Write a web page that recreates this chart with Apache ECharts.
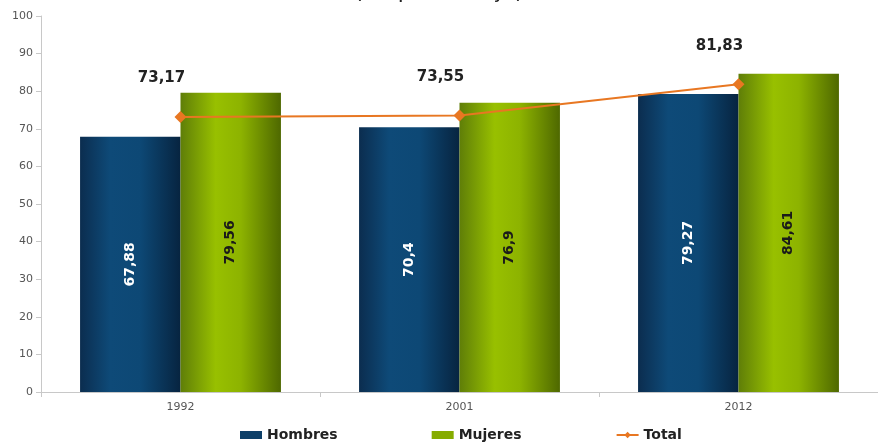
<!DOCTYPE html>
<html><head><meta charset="utf-8">
<script src="https://cdn.jsdelivr.net/npm/echarts@6/dist/echarts.min.js"></script>
<style>html,body{margin:0;padding:0;background:#fff}#c{width:878px;height:445px}</style>
</head><body><div id="c"></div>
<script>
const categories = ['1992', '2001', '2012'];
const hombres = [67.88, 70.4, 79.27];
const mujeres = [79.56, 76.9, 84.61];
const total = [73.17, 73.55, 81.83];
const yTicks = [0, 10, 20, 30, 40, 50, 60, 70, 80, 90, 100];

const fmt = v => String(v).replace('.', ',');
const font = '"DejaVu Sans", sans-serif';
const chart = echarts.init(document.getElementById('c'));
chart.setOption({
  animation: false,
  graphic: [{
    type: 'text', left: 'center', top: -19,
    style: { text: '(En porcentaje)', font: '22px "DejaVu Sans", sans-serif', fill: '#222' }
  }],
  grid: { left: 41, right: -4, top: 16, bottom: 53 },
  legend: {
    bottom: -2, left: 235, itemGap: 94, itemWidth: 22, itemHeight: 8,
    textStyle: { fontFamily: font, fontWeight: 'bold', fontSize: 14, color: '#222' },
    data: [
      { name: 'Hombres', icon: 'rect', itemStyle: { color: '#0d3f68' } },
      { name: 'Mujeres', icon: 'rect', itemStyle: { color: '#86ac00' } },
      { name: 'Total' }
    ]
  },
  xAxis: {
    type: 'category', data: categories,
    axisLine: { lineStyle: { color: '#c8c8c8' } },
    axisTick: { show: true, length: 5, lineStyle: { color: '#c8c8c8' } },
    axisLabel: { color: '#555', fontFamily: font, fontSize: 11, margin: 10 }
  },
  yAxis: {
    type: 'value', min: 0, max: 100, interval: 10,
    axisLine: { show: true, lineStyle: { color: '#c8c8c8' } },
    axisTick: { show: true, length: 5, lineStyle: { color: '#c8c8c8' } },
    splitLine: { show: false },
    axisLabel: { color: '#555', fontFamily: font, fontSize: 11, margin: 8,
      formatter: v => yTicks.includes(v) ? String(v) : '' }
  },
  series: [
    {
      name: 'Hombres', type: 'bar', data: hombres, barGap: '0%', barCategoryGap: '28%',
      itemStyle: { color: new echarts.graphic.LinearGradient(0, 0, 1, 0, [
        { offset: 0, color: '#0b2d4f' }, { offset: 0.3, color: '#0e4a78' },
        { offset: 0.6, color: '#0d4875' }, { offset: 1, color: '#072440' }]) },
      label: { show: true, position: 'inside', rotate: 90, color: '#fff', fontFamily: font,
        fontWeight: 'bold', fontSize: 14, formatter: p => fmt(p.value) }
    },
    {
      name: 'Mujeres', type: 'bar', data: mujeres,
      itemStyle: { color: new echarts.graphic.LinearGradient(0, 0, 1, 0, [
        { offset: 0, color: '#5f7e08' }, { offset: 0.35, color: '#98c000' },
        { offset: 0.6, color: '#8db300' }, { offset: 1, color: '#4e6800' }]) },
      label: { show: true, position: 'inside', rotate: 90, color: '#1a1a1a', fontFamily: font,
        fontWeight: 'bold', fontSize: 14, formatter: p => fmt(p.value) }
    },
    {
      name: 'Total', type: 'line', data: total, symbol: 'diamond', symbolSize: 12,
      color: '#e87722', lineStyle: { width: 2, color: '#e87722' },
      itemStyle: { color: '#e87722' },
      label: { show: true, position: 'top', offset: [-19, -20], color: '#222', fontFamily: font,
        fontWeight: 'bold', fontSize: 15, formatter: p => fmt(p.value) }
    }
  ]
});
</script></body></html>
